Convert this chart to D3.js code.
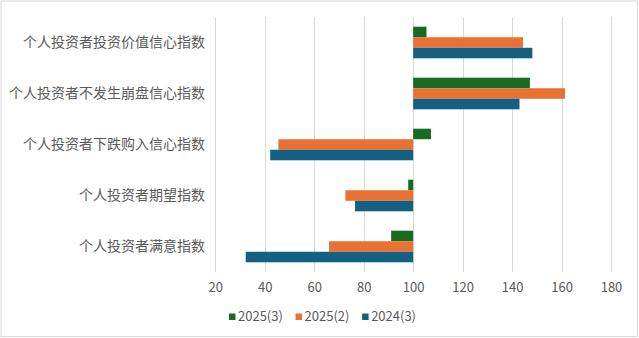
<!DOCTYPE html>
<html><head><meta charset="utf-8">
<script src="https://cdn.jsdelivr.net/npm/d3@7"></script>
<style>
html,body{margin:0;padding:0;background:#fff;}
svg{display:block;}
text{font-family:"Noto Sans CJK SC","Liberation Sans",sans-serif;fill:#595959;}
</style></head>
<body><svg id="c" width="639" height="338"></svg>
<script>
const categories = ["个人投资者投资价值信心指数","个人投资者不发生崩盘信心指数","个人投资者下跌购入信心指数","个人投资者期望指数","个人投资者满意指数"];
const seriesNames = ["2025(3)","2025(2)","2024(3)"];
const s2025_3 = [105.4, 147.2, 107.2, 98.0, 91.1];
const s2025_2 = [144.4, 161.4, 45.5, 72.6, 66.0];
const s2024_3 = [148.2, 143.0, 42.2, 76.5, 32.3];
const xTicks = [20,40,60,80,100,120,140,160,180];
const colors = ["#196B24","#E97132","#156082"];
const baseline = 100;

const seriesData = [s2025_3, s2025_2, s2024_3];
const svg = d3.select("#c");
const W = 639, H = 338;

svg.append("rect").attr("x",1).attr("y",1).attr("width",W-2.5).attr("height",H-2.5)
  .attr("fill","#fff").attr("stroke","#d9d9d9").attr("stroke-width",1);

const x = d3.scaleLinear().domain([20,180]).range([215.3,611]);
const y = d3.scaleBand().domain(categories).range([17,272]).paddingInner(0.38).paddingOuter(0.19);
const ys = d3.scaleBand().domain(seriesNames).range([0,y.bandwidth()]);

// gridlines
svg.append("g").selectAll("line").data(xTicks).join("line")
  .attr("x1",d=>Math.round(x(d))+0.5).attr("x2",d=>Math.round(x(d))+0.5)
  .attr("y1",17).attr("y2",272)
  .attr("stroke","#d9d9d9").attr("stroke-width",1);

// bars
const g = svg.append("g");
seriesNames.forEach((s,i)=>{
  g.append("g").selectAll("rect").data(categories).join("rect")
    .attr("x",(c,j)=>Math.min(x(baseline),x(seriesData[i][j])))
    .attr("width",(c,j)=>Math.abs(x(seriesData[i][j])-x(baseline)))
    .attr("y",c=>y(c)+ys(s))
    .attr("height",ys.bandwidth())
    .attr("fill",colors[i]);
});

// x axis labels
const xAxis = d3.axisBottom(x).tickValues(xTicks).tickSize(0).tickPadding(0);
const ax = svg.append("g").attr("transform","translate(0,287)").call(xAxis);
ax.select(".domain").remove();
ax.selectAll("text").attr("font-size",13).attr("dy","0.35em").attr("y",0)
  .style("font-family","'Noto Sans CJK SC','Liberation Sans',sans-serif").attr("fill","#595959");

// y labels
const yAxis = d3.axisLeft(y).tickSize(0).tickPadding(0);
const ay = svg.append("g").attr("transform","translate(205,0)").call(yAxis);
ay.select(".domain").remove();
ay.selectAll("text").attr("font-size",14).attr("dy","0.35em")
  .style("font-family","'Noto Sans CJK SC',sans-serif").attr("fill","#595959");

// legend
const leg = svg.append("g");
let cx = 0;
const items = [];
seriesNames.forEach((s,i)=>{
  const it = leg.append("g");
  it.append("rect").attr("x",0).attr("y",-3).attr("width",6.5).attr("height",6.5).attr("fill",colors[i]);
  const t = it.append("text").attr("x",9).attr("y",0).attr("dy","0.35em").attr("font-size",13).text(s);
  const w = 9 + t.node().getComputedTextLength();
  it.attr("transform",`translate(${cx},316.5)`);
  cx += w + 12.7;
});
const totalW = cx - 12.7;
leg.attr("transform",`translate(${322.5 - totalW/2},0)`);
</script></body></html>
